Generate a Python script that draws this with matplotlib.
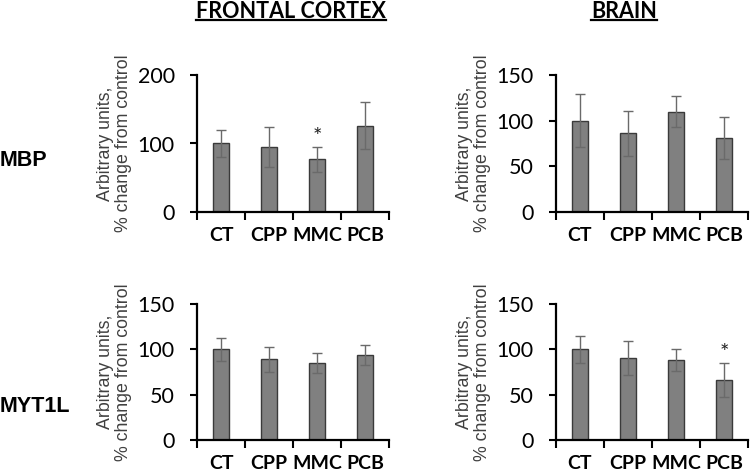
import matplotlib
matplotlib.use("Agg")
import matplotlib.pyplot as plt
from matplotlib.lines import Line2D
import numpy as np

categories = ["CT", "CPP", "MMC", "PCB"]

fc_mbp = [100, 95, 77, 126]
fc_mbp_err = [19, 29, 18, 34]
br_mbp = [100, 86, 110, 81]
br_mbp_err = [29, 25, 17, 23]
fc_myt = [100, 89, 85, 93.5]
fc_myt_err = [13, 14, 11.5, 11]
br_myt = [100, 90.5, 88.5, 66]
br_myt_err = [15, 18.5, 12, 19]

fc_mbp_star = [False, False, True, False]
br_myt_star = [False, False, False, True]
none_star = [False, False, False, False]

col_titles = ["FRONTAL CORTEX", "BRAIN"]
row_titles = ["MBP", "MYT1L"]
ylabel = "Arbitrary units,\n% change from control"

W, H = 750, 473
fig = plt.figure(figsize=(7.5, 4.73), dpi=100)

def fx(px):
    return px / W

def fy(py):
    return 1 - py / H

panels = [
    (197, 75, 212, fc_mbp, fc_mbp_err, 200, [0, 100, 200], fc_mbp_star),
    (556, 75, 212, br_mbp, br_mbp_err, 150, [0, 50, 100, 150], none_star),
    (197, 304, 440, fc_myt, fc_myt_err, 150, [0, 50, 100, 150], none_star),
    (556, 304, 440, br_myt, br_myt_err, 150, [0, 50, 100, 150], br_myt_star),
]

axw = 192
for (x0, ytop, ybot, vals, errs, ymax, yticks, stars) in panels:
    ax = fig.add_axes([fx(x0), fy(ybot), axw / W, (ybot - ytop) / H])
    x = np.arange(len(categories))
    ax.bar(x, vals, width=0.33, color="#808080", edgecolor="#3a3a3a",
           linewidth=1.0, zorder=2)
    ax.errorbar(x, vals, yerr=errs, fmt="none", ecolor="#6a6a6a",
                elinewidth=1.0, capsize=3.5, capthick=1.0, zorder=3)
    for xi, v, e, s in zip(x, vals, errs, stars):
        if s:
            ax.annotate("*", (xi, v + e), xytext=(0, 0), textcoords="offset points",
                        ha="center", va="bottom", fontsize=16, family="Lato",
                        color="#222222")
    ax.set_xlim(-0.5, 3.5)
    ax.set_ylim(0, ymax)
    ax.set_yticks(yticks)
    ax.set_yticklabels([str(t) for t in yticks], fontsize=15.5, family="Lato")
    ax.set_xticks([-0.5, 0.5, 1.5, 2.5, 3.5], minor=False)
    ax.set_xticklabels([])
    ax.set_xticks(x, minor=True)
    ax.set_xticklabels(categories, minor=True, fontsize=14, family="Lato",
                       fontweight="bold")
    ax.tick_params(axis="x", which="major", direction="out", length=6, width=1.5)
    ax.tick_params(axis="x", which="minor", length=0, pad=11)
    ax.tick_params(axis="y", direction="out", length=5, width=1.5, pad=11)
    for sp in ["top", "right"]:
        ax.spines[sp].set_visible(False)
    for sp in ["left", "bottom"]:
        ax.spines[sp].set_linewidth(1.6)
    ax.set_ylabel(ylabel, fontsize=12.8, family="Liberation Sans", color="#404040",
                  labelpad=4, linespacing=1.05)

fig.text(fx(0), fy(160), row_titles[0], fontsize=15.5, fontweight="bold",
         family="Liberation Sans", ha="left", va="center")
fig.text(fx(0), fy(406), row_titles[1], fontsize=15.5, fontweight="bold",
         family="Liberation Sans", ha="left", va="center")

titles = []
titles.append(fig.text(fx(291), fy(11), col_titles[0], fontsize=15.5,
                       fontweight="bold", family="Lato", ha="center", va="center"))
titles.append(fig.text(fx(624), fy(11), col_titles[1], fontsize=15.5,
                       fontweight="bold", family="Lato", ha="center", va="center"))

fig.canvas.draw()
r = fig.canvas.get_renderer()
for t in titles:
    bb = t.get_window_extent(renderer=r)
    yline = bb.y0 + 1
    fig.add_artist(Line2D([bb.x0 / W, bb.x1 / W], [yline / H, yline / H],
                          transform=fig.transFigure, color="black", linewidth=1.6))

fig.savefig("out.png", dpi=100)
